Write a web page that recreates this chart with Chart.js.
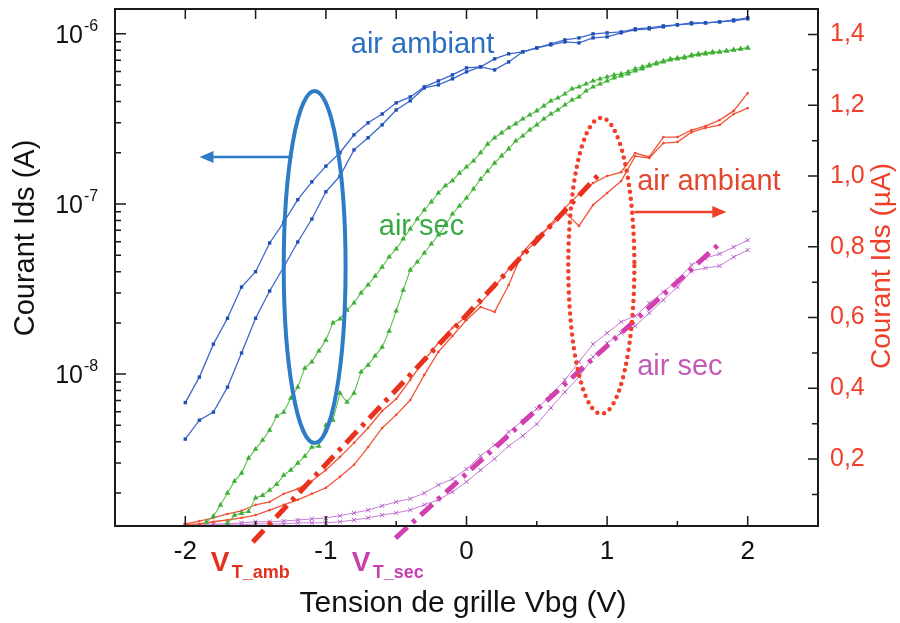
<!DOCTYPE html>
<html>
<head>
<meta charset="utf-8">
<script src="https://cdn.jsdelivr.net/npm/chart.js@4.4.1/dist/chart.umd.min.js"></script>
<style>
  html, body { margin: 0; padding: 0; background: #fff; }
  #wrap { width: 900px; height: 623px; }
</style>
</head>
<body>
<div id="wrap"><canvas id="myChart" width="900" height="623"></canvas></div>
<script>
//========================= Data ==================================//

// gate voltage, 0.1 V and 0.05 V sweeps
const vbgCoarse = [-2, -1.9, -1.8, -1.7, -1.6, -1.5, -1.4, -1.3, -1.2, -1.1, -1, -0.9, -0.8, -0.7, -0.6, -0.5, -0.4, -0.3, -0.2, -0.1,
  0, 0.1, 0.2, 0.3, 0.4, 0.5, 0.6, 0.7, 0.8, 0.9, 1, 1.1, 1.2, 1.3, 1.4, 1.5, 1.6, 1.7, 1.8, 1.9, 2];
const vbgFine = [-2, -1.95, -1.9, -1.85, -1.8, -1.75, -1.7, -1.65, -1.6, -1.55, -1.5, -1.45, -1.4, -1.35, -1.3, -1.25, -1.2, -1.15, -1.1, -1.05,
  -1, -0.95, -0.9, -0.85, -0.8, -0.75, -0.7, -0.65, -0.6, -0.55, -0.5, -0.45, -0.4, -0.35, -0.3, -0.25, -0.2, -0.15, -0.1, -0.05,
  0, 0.05, 0.1, 0.15, 0.2, 0.25, 0.3, 0.35, 0.4, 0.45, 0.5, 0.55, 0.6, 0.65, 0.7, 0.75, 0.8, 0.85, 0.9, 0.95,
  1, 1.05, 1.1, 1.15, 1.2, 1.25, 1.3, 1.35, 1.4, 1.45, 1.5, 1.55, 1.6, 1.65, 1.7, 1.75, 1.8, 1.85, 1.9, 1.95, 2];

// air ambiant, log scale (A)
const idsAmbLogA = [6.8e-9, 9.6e-9, 1.50e-8, 2.13e-8, 3.25e-8, 4.0e-8, 5.9e-8, 7.8e-8, 1.06e-7, 1.35e-7,
  1.67e-7, 2.0e-7, 2.55e-7, 3.0e-7, 3.38e-7, 3.93e-7, 4.26e-7, 4.88e-7, 5.29e-7, 5.74e-7,
  6.31e-7, 6.40e-7, 6.14e-7, 6.84e-7, 7.84e-7, 8.27e-7, 8.73e-7, 9.22e-7, 9.47e-7, 1.0e-6,
  1.014e-6, 1.027e-6, 1.070e-6, 1.085e-6, 1.114e-6, 1.130e-6, 1.161e-6, 1.161e-6, 1.177e-6, 1.209e-6, 1.242e-6];
const idsAmbLogB = [4.15e-9, 5.36e-9, 5.98e-9, 8.38e-9, 1.33e-8, 2.13e-8, 3.08e-8, 4.26e-8, 5.98e-8, 8.16e-8,
  1.18e-7, 1.46e-7, 2.08e-7, 2.45e-7, 2.92e-7, 3.57e-7, 4.04e-7, 4.81e-7, 5.01e-7, 5.44e-7,
  5.98e-7, 6.40e-7, 7.13e-7, 7.63e-7, 7.84e-7, 8.27e-7, 8.61e-7, 8.97e-7, 8.85e-7, 9.47e-7,
  9.60e-7, 1.014e-6, 1.056e-6, 1.070e-6, 1.099e-6, 1.130e-6, 1.145e-6, 1.161e-6, 1.177e-6, 1.192e-6, 1.225e-6];

// air sec, log scale (A)
const idsSecLogA = [null, null, null, 1.35e-9, 1.46e-9, 1.70e-9, 2.0e-9, 2.35e-9, 2.62e-9, 3.21e-9,
  3.62e-9, 4.09e-9, 4.68e-9, 5.66e-9, 5.98e-9, 7.22e-9, 8.38e-9, 1.085e-8, 1.18e-8, 1.37e-8,
  1.585e-8, 2.0e-8, 2.11e-8, 2.38e-8, 2.62e-8, 3.0e-8, 3.34e-8, 3.77e-8, 4.26e-8, 4.88e-8,
  5.44e-8, 6.23e-8, 7.13e-8, 8.16e-8, 9.22e-8, 1.03e-7, 1.16e-7, 1.28e-7, 1.37e-7, 1.52e-7,
  1.65e-7, 1.79e-7, 2.0e-7, 2.25e-7, 2.45e-7, 2.62e-7, 2.80e-7, 2.96e-7, 3.16e-7, 3.34e-7,
  3.53e-7, 3.77e-7, 4.04e-7, 4.20e-7, 4.44e-7, 4.75e-7, 4.88e-7, 5.08e-7, 5.29e-7, 5.44e-7,
  5.59e-7, 5.74e-7, 5.82e-7, 5.98e-7, 6.23e-7, 6.40e-7, 6.57e-7, 6.75e-7, 6.94e-7, 7.13e-7,
  7.22e-7, 7.32e-7, 7.52e-7, 7.63e-7, 7.73e-7, 7.84e-7, 7.84e-7, 7.94e-7, 8.05e-7, 8.16e-7, 8.27e-7];
const idsSecLogB = [null, null, null, null, null, null, 1.33e-9, 1.48e-9, 1.52e-9, 1.56e-9,
  1.87e-9, 1.94e-9, 2.08e-9, 2.25e-9, 2.55e-9, 2.73e-9, 3.0e-9, 3.29e-9, 3.72e-9, 3.77e-9,
  5.01e-9, 5.36e-9, 7.73e-9, 6.84e-9, 7.73e-9, 1.03e-8, 1.13e-8, 1.28e-8, 1.44e-8, 1.79e-8,
  2.35e-8, 3.12e-8, 4.09e-8, 4.56e-8, 5.15e-8, 5.82e-8, 6.57e-8, 7.52e-8, 8.73e-8, 9.73e-8,
  1.085e-7, 1.225e-7, 1.40e-7, 1.56e-7, 1.74e-7, 1.92e-7, 2.11e-7, 2.35e-7, 2.51e-7, 2.73e-7,
  2.92e-7, 3.16e-7, 3.38e-7, 3.57e-7, 3.82e-7, 4.09e-7, 4.26e-7, 4.62e-7, 4.88e-7, 5.08e-7,
  5.29e-7, 5.51e-7, 5.66e-7, 5.82e-7, 6.06e-7, 6.23e-7, 6.48e-7, 6.66e-7, 6.84e-7, 7.03e-7,
  7.13e-7, 7.22e-7, 7.42e-7, 7.52e-7, 7.63e-7, 7.73e-7, 7.84e-7, 7.94e-7, 8.05e-7, 8.16e-7, 8.27e-7];

// air ambiant, linear scale (µA)
const idsAmbLinA = [0.017, 0.025, 0.034, 0.045, 0.054, 0.071, 0.079, 0.102, 0.116, 0.138,
  0.169, 0.206, 0.246, 0.288, 0.336, 0.370, 0.424, 0.480, 0.528, 0.571,
  0.604, 0.641, 0.686, 0.737, 0.780, 0.816, 0.864, 0.910, 0.949, 0.980,
  1.000, 1.011, 1.065, 1.054, 1.110, 1.110, 1.130, 1.141, 1.158, 1.184, 1.234];
const idsAmbLinB = [0.014, 0.017, 0.023, 0.028, 0.034, 0.042, 0.056, 0.071, 0.085, 0.102,
  0.119, 0.150, 0.184, 0.234, 0.288, 0.325, 0.367, 0.438, 0.503, 0.548,
  0.593, 0.630, 0.616, 0.692, 0.785, 0.828, 0.859, 0.898, 0.859, 0.918,
  0.952, 0.986, 1.056, 1.051, 1.093, 1.096, 1.124, 1.136, 1.144, 1.175, 1.192];

// air sec, linear scale (µA)
const idsSecLinA = [0.014, 0.014, 0.017, 0.017, 0.020, 0.023, 0.023, 0.025, 0.028, 0.031,
  0.034, 0.040, 0.048, 0.056, 0.068, 0.079, 0.088, 0.104, 0.127, 0.144,
  0.172, 0.209, 0.240, 0.277, 0.308, 0.342, 0.381, 0.424, 0.475, 0.525,
  0.556, 0.588, 0.604, 0.641, 0.672, 0.706, 0.749, 0.768, 0.780, 0.799, 0.819];
const idsSecLinB = [0.011, 0.011, 0.014, 0.014, 0.014, 0.017, 0.017, 0.017, 0.020, 0.020,
  0.020, 0.023, 0.028, 0.034, 0.042, 0.048, 0.056, 0.071, 0.085, 0.107,
  0.136, 0.169, 0.201, 0.237, 0.266, 0.299, 0.345, 0.390, 0.432, 0.489,
  0.528, 0.556, 0.576, 0.613, 0.650, 0.686, 0.732, 0.740, 0.746, 0.771, 0.791];

// tangent lines used for V_T extraction
const fitAmbX = [-1.52, 0.95];
const fitAmbY = [-0.034, 1.008];
const fitSecX = [-0.505, 1.805];
const fitSecY = [-0.023, 0.811];

// ticks
const xTicks = [-2, -1, 0, 1, 2];
const logTickExps = [-8, -7, -6];
const rightTicks = [0.2, 0.4, 0.6, 0.8, 1.0, 1.2, 1.4];
const rightTickLabels = ['0,2', '0,4', '0,6', '0,8', '1,0', '1,2', '1,4'];

const FONT = '"Liberation Sans", Arial, sans-serif';

function pts(xs, ys) {
  return xs.map((v, i) => ({ x: v, y: ys[i] }));
}

/***************************************************************
* Axes, labels and annotations drawn by hand
****************************************************************/
function txt(ctx, s, x, y, size, color, align, base, weight) {
  ctx.font = (weight || 'normal') + ' ' + size + 'px ' + FONT;
  ctx.fillStyle = color;
  ctx.textAlign = align || 'left';
  ctx.textBaseline = base || 'alphabetic';
  ctx.fillText(s, x, y);
}

function arrow(ctx, x1, y, x2, color) {
  const dir = x2 > x1 ? 1 : -1;
  ctx.strokeStyle = color;
  ctx.fillStyle = color;
  ctx.lineWidth = 2.5;
  ctx.beginPath();
  ctx.moveTo(x1, y);
  ctx.lineTo(x2 - dir * 10, y);
  ctx.stroke();
  ctx.beginPath();
  ctx.moveTo(x2, y);
  ctx.lineTo(x2 - dir * 14, y - 6);
  ctx.lineTo(x2 - dir * 14, y + 6);
  ctx.closePath();
  ctx.fill();
}

const decor = {
  id: 'decor',
  afterDatasetsDraw(chart) {
    const { ctx, chartArea: a, scales } = chart;
    const sx = scales.x, yl = scales.yLog, yr = scales.yLin;
    ctx.save();

    // blue solid ellipse + arrow to the left axis
    const bx1 = sx.getPixelForValue(-1.30), bx2 = sx.getPixelForValue(-0.86);
    const by1 = yl.getPixelForValue(4.62e-7), by2 = yl.getPixelForValue(3.93e-9);
    ctx.strokeStyle = '#2f7cc6';
    ctx.lineWidth = 4;
    ctx.beginPath();
    ctx.ellipse((bx1 + bx2) / 2, (by1 + by2) / 2, (bx2 - bx1) / 2, (by2 - by1) / 2, 0, 0, Math.PI * 2);
    ctx.stroke();
    arrow(ctx, sx.getPixelForValue(-1.238), yl.getPixelForValue(1.89e-7), sx.getPixelForValue(-1.899), '#2f7cc6');

    // red dotted ellipse + arrow to the right axis
    const rx1 = sx.getPixelForValue(0.724), rx2 = sx.getPixelForValue(1.194);
    const ry1 = yr.getPixelForValue(1.164), ry2 = yr.getPixelForValue(0.328);
    ctx.strokeStyle = '#f0402a';
    ctx.lineWidth = 4.5;
    ctx.lineCap = 'round';
    ctx.setLineDash([0, 7]);
    ctx.beginPath();
    ctx.ellipse((rx1 + rx2) / 2, (ry1 + ry2) / 2, (rx2 - rx1) / 2, (ry2 - ry1) / 2, 0, 0, Math.PI * 2);
    ctx.stroke();
    ctx.setLineDash([]);
    ctx.lineCap = 'butt';
    arrow(ctx, sx.getPixelForValue(1.194), yr.getPixelForValue(0.898), sx.getPixelForValue(1.848), '#f0402a');

    // curve names
    txt(ctx, 'air ambiant', sx.getPixelForValue(-0.823), yl.getPixelForValue(7.73e-7), 29, '#2a6fc0');
    txt(ctx, 'air sec', sx.getPixelForValue(-0.624), yl.getPixelForValue(6.57e-8), 29, '#3aaa44');
    txt(ctx, 'air ambiant', sx.getPixelForValue(1.214), yr.getPixelForValue(0.960), 29, '#e2472f');
    txt(ctx, 'air sec', sx.getPixelForValue(1.214), yr.getPixelForValue(0.438), 29, '#c45ab8');

    // frame
    ctx.strokeStyle = '#1a1a1a';
    ctx.lineWidth = 2;
    ctx.strokeRect(a.left, a.top, a.right - a.left, a.bottom - a.top);

    // tick marks (inward)
    ctx.lineWidth = 1.5;
    ctx.beginPath();
    for (let v = -2; v <= 2.001; v += 0.5) {
      const p = sx.getPixelForValue(v);
      const major = Math.abs(v - Math.round(v)) < 1e-6;
      ctx.moveTo(p, a.bottom); ctx.lineTo(p, a.bottom - (major ? 10 : 5));
      ctx.moveTo(p, a.top); ctx.lineTo(p, a.top + 10);
    }
    for (let e = -9; e <= -6; e++) {
      for (let m = 1; m <= 9; m++) {
        const v = m * Math.pow(10, e);
        if (v < yl.min || v > yl.max) continue;
        const p = yl.getPixelForValue(v);
        ctx.moveTo(a.left, p); ctx.lineTo(a.left + (m === 1 ? 11 : 6), p);
      }
    }
    for (let v = 0.1; v <= 1.45; v += 0.1) {
      const p = yr.getPixelForValue(v);
      const major = Math.round(v * 10) % 2 === 0;
      ctx.moveTo(a.right, p); ctx.lineTo(a.right - (major ? 10 : 6), p);
    }
    ctx.stroke();

    // tick labels
    xTicks.forEach(v => {
      txt(ctx, String(v), sx.getPixelForValue(v), a.bottom + 26, 26, '#111', 'center', 'middle');
    });
    logTickExps.forEach(e => {
      const p = yl.getPixelForValue(Math.pow(10, e));
      txt(ctx, '10', 83, p + 9, 25, '#111', 'right');
      txt(ctx, String(e), 84, p - 3, 16, '#111', 'left');
    });
    rightTicks.forEach((v, i) => {
      txt(ctx, rightTickLabels[i], a.right + 12, yr.getPixelForValue(v), 25, '#f0402a', 'left', 'middle');
    });

    // axis titles
    txt(ctx, 'Tension de grille Vbg (V)', 463, a.bottom + 78, 30, '#111', 'center', 'middle');
    ctx.save();
    ctx.translate(26, 238);
    ctx.rotate(-Math.PI / 2);
    txt(ctx, 'Courant Ids (A)', 0, 0, 29, '#111', 'center', 'middle');
    ctx.restore();
    ctx.save();
    ctx.translate(882, 266);
    ctx.rotate(-Math.PI / 2);
    txt(ctx, 'Courant Ids (\u00b5A)', 0, 0, 28, '#f0402a', 'center', 'middle');
    ctx.restore();

    // threshold voltage labels
    txt(ctx, 'V', sx.getPixelForValue(-1.819), a.bottom + 45, 28, '#e2321e', 'left', 'alphabetic', 'bold');
    txt(ctx, 'T_amb', sx.getPixelForValue(-1.819) + 21, a.bottom + 52, 18, '#e2321e', 'left', 'alphabetic', 'bold');
    txt(ctx, 'V', sx.getPixelForValue(-0.816), a.bottom + 45, 28, '#c93fae', 'left', 'alphabetic', 'bold');
    txt(ctx, 'T_sec', sx.getPixelForValue(-0.816) + 21, a.bottom + 52, 18, '#c93fae', 'left', 'alphabetic', 'bold');

    ctx.restore();
  }
};

/***************************************************************
* Chart
****************************************************************/
const ctx = document.getElementById('myChart').getContext('2d');

const myChart = new Chart(ctx, {
  type: 'line',
  data: {
    datasets: [
      {
        data: pts(fitAmbX, fitAmbY), yAxisID: 'yLin',
        borderColor: '#e8321e', borderWidth: 5, borderDash: [16, 7, 4, 7],
        pointRadius: 0, clip: false
      },
      {
        data: pts(fitSecX, fitSecY), yAxisID: 'yLin',
        borderColor: '#d23fae', borderWidth: 5, borderDash: [16, 7, 4, 7],
        pointRadius: 0, clip: false
      },
      {
        data: pts(vbgCoarse, idsAmbLogA), yAxisID: 'yLog',
        borderColor: '#3d68cc', borderWidth: 1.3,
        pointStyle: 'rect', pointRadius: 2.4, pointBackgroundColor: '#2150b4', pointBorderWidth: 0
      },
      {
        data: pts(vbgCoarse, idsAmbLogB), yAxisID: 'yLog',
        borderColor: '#3d68cc', borderWidth: 1.3,
        pointStyle: 'rect', pointRadius: 2.4, pointBackgroundColor: '#2150b4', pointBorderWidth: 0
      },
      {
        data: pts(vbgFine, idsSecLogA), yAxisID: 'yLog',
        borderColor: '#5cc04a', borderWidth: 1.1,
        pointStyle: 'triangle', pointRadius: 3.2, pointBackgroundColor: '#3fae38', pointBorderWidth: 0
      },
      {
        data: pts(vbgFine, idsSecLogB), yAxisID: 'yLog',
        borderColor: '#5cc04a', borderWidth: 1.1,
        pointStyle: 'triangle', pointRadius: 3.2, pointBackgroundColor: '#3fae38', pointBorderWidth: 0
      },
      {
        data: pts(vbgCoarse, idsAmbLinA), yAxisID: 'yLin',
        borderColor: '#f2553a', borderWidth: 1.3,
        pointStyle: 'circle', pointRadius: 1.3, pointBackgroundColor: '#f04a30', pointBorderWidth: 0
      },
      {
        data: pts(vbgCoarse, idsAmbLinB), yAxisID: 'yLin',
        borderColor: '#f2553a', borderWidth: 1.3,
        pointStyle: 'circle', pointRadius: 1.3, pointBackgroundColor: '#f04a30', pointBorderWidth: 0
      },
      {
        data: pts(vbgCoarse, idsSecLinA), yAxisID: 'yLin',
        borderColor: '#c77fd6', borderWidth: 1,
        pointStyle: 'crossRot', pointRadius: 3, pointBorderColor: '#b35fc8', pointBorderWidth: 1
      },
      {
        data: pts(vbgCoarse, idsSecLinB), yAxisID: 'yLin',
        borderColor: '#c77fd6', borderWidth: 1,
        pointStyle: 'crossRot', pointRadius: 3, pointBorderColor: '#b35fc8', pointBorderWidth: 1
      }
    ]
  },
  options: {
    responsive: false,
    animation: false,
    layout: { padding: { left: 115, right: 82, top: 9, bottom: 97 } },
    plugins: { legend: { display: false }, tooltip: { enabled: false } },
    scales: {
      x: { type: 'linear', min: -2.5, max: 2.5, display: false },
      yLog: { type: 'logarithmic', position: 'left', min: 1.28e-9, max: 1.40e-6, display: false },
      yLin: { type: 'linear', position: 'right', min: 0.011, max: 1.472, display: false }
    }
  },
  plugins: [decor]
});
</script>
</body>
</html>
